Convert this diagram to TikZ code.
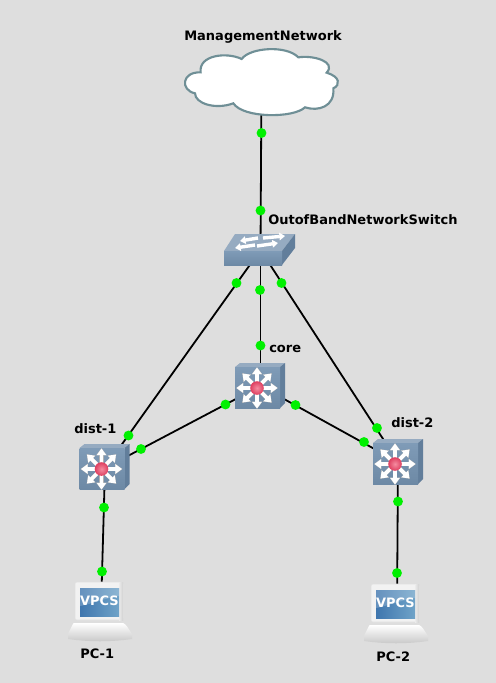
\documentclass[tikz,border=0pt]{standalone}
\usepackage{fontspec}
\setmainfont{DejaVu Sans}
\usetikzlibrary{arrows.meta}
\definecolor{bgc}{HTML}{DEDEDE}
\definecolor{cloudline}{HTML}{6F8F96}
\definecolor{faceA}{HTML}{7F9BB7}
\definecolor{faceB}{HTML}{6D89A5}
\definecolor{topc}{HTML}{96ABC1}
\definecolor{sidec}{HTML}{627E9B}
\definecolor{ballA}{HTML}{F58CA0}
\definecolor{ballB}{HTML}{DE3F60}
\definecolor{linkdot}{HTML}{00F000}
\definecolor{scrA}{HTML}{3F76AE}
\definecolor{scrB}{HTML}{6FA3C8}
\tikzset{
  linkline/.style={draw=black,line width=1.35pt},
  linkdotstyle/.style={circle,fill=linkdot,draw=none,minimum size=7.4pt,inner sep=0pt},
  lab/.style={font=\bfseries\fontsize{9.75}{11}\selectfont,text=black,inner sep=0pt},
  routericon/.pic={
    \path[fill=topc] (-22,-21) -- (-17,-25) -- (28,-25) -- (23,-21) -- cycle;
    \path[fill=sidec] (23,-21) -- (28,-25) -- (28,15) -- (23,20) -- cycle;
    \path[top color=faceA,bottom color=faceB] (-22,-21) rectangle (23,20);
    \foreach \a in {0,45,...,315}{
      \draw[line width=3.6pt*0.75+0.35pt,draw=black!30,-{Triangle[length=5.5pt,width=7.6pt]}] (0,0) -- (\a:21);
      \draw[line width=3.6pt*0.75,draw=white,-{Triangle[length=5pt,width=7pt]}] (0,0) -- (\a:20.5);
    }
    \path[inner color=ballA,outer color=ballB] (0,0) circle (6.8);
  },
  switchicon/.pic={
    \path[fill=topc] (-25,-16) -- (35,-16) -- (22,1) -- (-36,1) -- cycle;
    \path[fill=sidec] (22,1) -- (35,-16) -- (35,-2) -- (22,15) -- cycle;
    \path[top color=faceA,bottom color=faceB] (-36,1) rectangle (22,15);
    \foreach \ax/\ay/\bx/\by in {-2/-12/-20/-9,3/-12/25/-14,-5/-5/-25/-2,-3/-4/18/-7}{
      \draw[line width=3.4pt*0.75,white,-{Triangle[length=4.2pt,width=5.6pt]}] (\ax,\ay) -- (\bx,\by);
    }
  },
  pcicon/.pic={
    \path[top color=white,bottom color=black!22] (-32,24) .. controls (-28,16) and (-27,13) .. (-26,13) -- (23,13) .. controls (26,14) and (28,18) .. (32,24) -- (32,29) .. controls (10,32) and (-10,32) .. (-32,29) -- cycle;
    \path[fill=black!5,rounded corners=1.5pt,draw=black!12,line width=.4pt] (-25,-28) rectangle (23,10);
    \path[left color=black!8,right color=black!18] (19,-28) rectangle (23,10);
    \path[left color=scrA,right color=scrB] (-20,-22) rectangle (19,6);
    \path[fill=white,opacity=.2] (-20,-22) -- (19,-22) -- (19,-14) .. controls (5,-12) and (-8,-6) .. (-20,-4) -- cycle;
    \node[font=\bfseries\fontsize{9.7}{10}\selectfont,text=white,inner sep=0pt] (-vpcs) at (-.5,-9) {VPCS};
  },
}
\begin{document}
\begin{tikzpicture}[x=0.75pt,y=-0.75pt]
\useasboundingbox (0,0) rectangle (496,683);
\fill[bgc] (0,0) rectangle (496,683);
\coordinate (cloud) at (261.5,82);
\coordinate (switch) at (260.5,250);
\coordinate (core) at (260.5,386);
\coordinate (dist1) at (105,468);
\coordinate (dist2) at (398,462);
\coordinate (pc1) at (101,610);
\coordinate (pc2) at (397,612);
\draw[linkline] (cloud) -- (switch);
\draw[linkline] (switch) -- (core);
\draw[linkline] (switch) -- (dist1);
\draw[linkline] (switch) -- (dist2);
\draw[linkline] (core) -- (dist1);
\draw[linkline] (core) -- (dist2);
\draw[linkline] (dist1) -- (pc1);
\draw[linkline] (dist2) -- (pc2);
% cloud
\begin{scope}[shift={(170,20)},x=0.25pt,y=-0.25pt]
\draw[fill=white,draw=cloudline,line width=1.6pt]
 (215,117) .. controls (240,82) and (350,75) .. (385,112)
 .. controls (430,105) and (500,125) .. (470,158)
 .. controls (510,170) and (512,195) .. (490,205)
 .. controls (495,260) and (445,275) .. (405,262)
 .. controls (370,295) and (220,295) .. (190,250)
 .. controls (135,270) and (75,250) .. (75,220)
 .. controls (30,210) and (35,155) .. (92,157)
 .. controls (85,105) and (170,95) .. (215,117) -- cycle;
\end{scope}
\pic at (260,250) {switchicon};
\pic at (257,388) {routericon};
\pic at (101.5,469) {routericon};
\pic at (395,464) {routericon};
\pic at (100,610) {pcicon};
\pic at (396,612) {pcicon};
\foreach \n/\x/\y in {a/261.5/133,b/260.5/210.5,c/236.5/283,d/128.5/435.5,e/260/290,f/260.5/345.5,g/281.5/283,h/377/428,i/225.5/404.5,j/141/449,k/295.5/405,l/364/442,m/104/507.5,n/102/571.5,o/398/501.5,p/397/573}{
  \node[linkdotstyle] (dot\n) at (\x,\y) {};
}
\node[lab,anchor=base west] (lmgmt) at (184,40) {ManagementNetwork};
\node[lab,anchor=base west] (lswitch) at (268,224) {OutofBandNetworkSwitch};
\node[lab,anchor=base west] (lcore) at (269,352) {core};
\node[lab,anchor=base west] (ldist1) at (74,433) {dist-1};
\node[lab,anchor=base west] (ldist2) at (391,427) {dist-2};
\node[lab,anchor=base west] (lpc1) at (80,658) {PC-1};
\node[lab,anchor=base west] (lpc2) at (376,661) {PC-2};
\end{tikzpicture}
\end{document}
